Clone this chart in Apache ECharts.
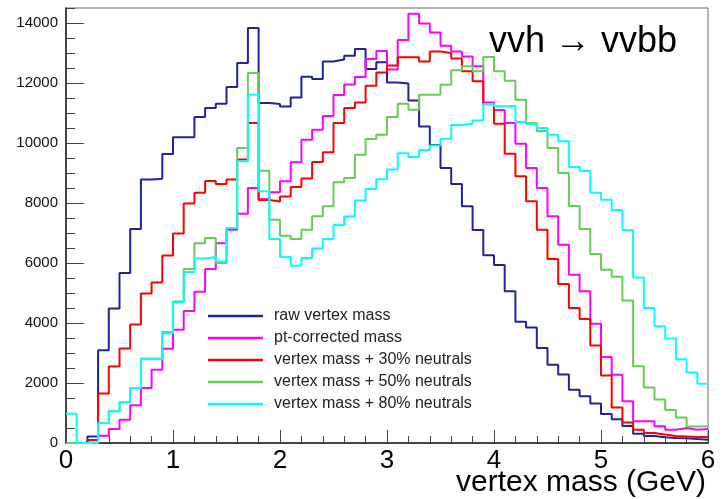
<!DOCTYPE html>
<html>
<head>
<meta charset="utf-8">
<title>vertex mass</title>
<script src="https://cdn.jsdelivr.net/npm/echarts@6/dist/echarts.min.js"></script>
<style>
    html, body { margin: 0; padding: 0; background: #fff; }
    #massChart { width: 724px; height: 499px; }
</style>
</head>
<body>
<div id="massChart"></div>
<script>
// 60 bins of 0.1 GeV, 0 - 6 GeV
var binWidth = 0.1;
var nBins = 60;

var rawMass = [0, 0, 220, 3090, 4480, 5670, 7130, 8780, 8810, 9630,
               10190, 10190, 10870, 11170, 11310, 11870, 12670, 13830, 11330, 11300,
               11220, 11520, 12210, 12130, 12720, 12780, 12910, 13130, 12470, 12690,
               12020, 11980, 11420, 10550, 9930, 9170, 8630, 7890, 7100, 6260,
               5930, 5055, 4045, 3850, 3166, 2611, 2280, 1777, 1560, 1320,
               970, 790, 566, 310, 230, 190, 166, 160, 133, 111];
var ptCorrected = [0, 0, 90, 240, 466, 777, 1260, 1833, 2444, 3140,
                   3777, 4400, 5040, 5800, 6660, 7111, 7644, 8500, 8133, 8355,
                   8722, 9355, 10111, 10444, 10900, 11600, 11950, 12200, 12800, 13070,
                   12450, 13430, 14310, 13980, 13680, 13240, 13050, 12880, 12560, 11350,
                   11100, 10666, 9977, 9166, 8500, 7555, 6610, 5610, 5055, 3977,
                   2866, 2277, 1388, 722, 722, 555, 444, 500, 444, 466];
var neutrals30 = [0, 0, 100, 1650, 2550, 3150, 3950, 4980, 5350, 6250,
                  6980, 7980, 8340, 8730, 8630, 8780, 9450, 10670, 8100, 8050,
                  8220, 8530, 8820, 9370, 9690, 10670, 11170, 11350, 11910, 12350,
                  12580, 12860, 12860, 12720, 13050, 13000, 12820, 12390, 12060, 11300,
                  10640, 9640, 8890, 8060, 7110, 6130, 5300, 4500, 4130, 3250,
                  2250, 1180, 680, 440, 333, 280, 230, 220, 200, 200];
var neutrals50 = [0, 0, 0, 666, 1055, 1355, 1833, 2811, 2811, 3700,
                  4720, 5800, 6660, 6830, 6000, 7166, 9833, 12333, 9077, 7444,
                  6911, 6800, 7111, 7555, 7888, 8688, 8833, 9611, 10133, 10277,
                  10866, 11311, 11111, 11611, 11611, 11944, 12422, 12555, 12388, 12866,
                  12388, 12077, 11444, 10666, 10388, 9833, 9000, 7900, 7133, 6300,
                  5777, 5544, 4750, 2555, 1850, 1450, 1100, 850, 550, 560];
var neutrals80 = [977, 0, 0, 666, 1055, 1355, 1833, 2811, 2811, 3660,
                  4680, 5700, 6150, 6200, 6050, 7166, 9388, 11611, 8388, 6800,
                  6200, 5911, 6166, 6480, 6800, 7270, 7550, 8080, 8470, 8790,
                  9120, 9655, 9530, 9766, 9915, 10140, 10600, 10640, 10750, 11300,
                  11222, 11230, 10700, 10630, 10500, 10277, 10055, 9200, 9070, 8340,
                  8110, 7770, 7100, 5520, 4500, 3888, 3480, 2790, 2350, 1977];

var seriesNames = ['raw vertex mass', 'pt-corrected mass', 'vertex mass + 30% neutrals',
                   'vertex mass + 50% neutrals', 'vertex mass + 80% neutrals'];
var seriesColors = ['#22229a', '#ff00ff', '#ff0000', '#66cc55', '#00ffff'];
var xTicks = [0, 1, 2, 3, 4, 5, 6];
var yTicks = [0, 2000, 4000, 6000, 8000, 10000, 12000, 14000];

var fontName = 'Liberation Sans, Arial, Helvetica, sans-serif';

// histogram outline: each bin low edge with its content, plus the last upper edge
function toSteps(vals) {
    var pts = [];
    for (var i = 0; i < nBins; i++) {
        pts.push([+(i * binWidth).toFixed(1), vals[i]]);
    }
    pts.push([+(nBins * binWidth).toFixed(1), vals[nBins - 1]]);
    return pts;
}

var allData = [rawMass, ptCorrected, neutrals30, neutrals50, neutrals80];
var series = [];
for (var s = 0; s < allData.length; s++) {
    series.push({
        name: seriesNames[s],
        type: 'line',
        step: 'end',
        showSymbol: false,
        symbol: 'none',
        color: seriesColors[s],
        lineStyle: { color: seriesColors[s], width: 2 },
        data: toSteps(allData[s]),
        z: 2 + s,
        animation: false
    });
}

var massChart = echarts.init(document.getElementById('massChart'));
var option = {
    backgroundColor: '#fff',
    animation: false,
    grid: {
        left: 66, right: 16, top: 8, bottom: 56,
        show: true, borderColor: '#666', borderWidth: 1
    },
    legend: {
        data: seriesNames,
        orient: 'vertical',
        left: 208,
        top: 308,
        padding: 0,
        itemGap: 6,
        itemWidth: 55,
        itemHeight: 2.5,
        icon: 'rect',
        textStyle: { fontFamily: fontName, fontSize: 16, color: '#222', lineHeight: 16, padding: [0, 0, 0, 6] }
    },
    title: {
        text: 'vvh \u2192 vvbb',
        left: 489,
        top: 24,
        padding: 0,
        textStyle: { fontFamily: fontName, fontSize: 36, fontWeight: 'normal', color: '#000' }
    },
    graphic: [{
        type: 'text',
        right: 18,
        top: 468,
        style: { text: 'vertex mass (GeV)', font: '30px ' + fontName, fill: '#000' }
    }],
    xAxis: {
        type: 'value',
        min: xTicks[0],
        max: xTicks[xTicks.length - 1],
        interval: 1,
        axisLine: { lineStyle: { color: '#222', width: 1.5 } },
        axisTick: { inside: true, length: 13, lineStyle: { color: '#444', width: 1 } },
        minorTick: { show: true, splitNumber: 5, length: 7, lineStyle: { color: '#444', width: 1 } },
        axisLabel: {
            fontFamily: fontName, fontSize: 26, color: '#000', margin: 5,
            formatter: function (v) { return xTicks.indexOf(v) >= 0 ? String(v) : ''; }
        },
        splitLine: { show: false }
    },
    yAxis: [{
        type: 'value',
        min: 0,
        max: 14500,
        interval: 2000,
        axisLine: { show: true, lineStyle: { color: '#222', width: 1.5 } },
        axisTick: { inside: true, length: 18, lineStyle: { color: '#444', width: 1 } },
        axisLabel: {
            fontFamily: fontName, fontSize: 15, color: '#111', margin: 8,
            showMaxLabel: false,
            formatter: function (v) { return yTicks.indexOf(v) >= 0 ? String(v) : ''; }
        },
        splitLine: { show: false }
    }, {
        // minor ticks every 500
        type: 'value',
        position: 'left',
        min: 0,
        max: 14500,
        interval: 500,
        axisLine: { show: false },
        axisTick: { show: true, inside: true, length: 9, lineStyle: { color: '#444', width: 1 } },
        axisLabel: { show: false },
        splitLine: { show: false }
    }],
    series: series
};
massChart.setOption(option);
</script>
</body>
</html>
